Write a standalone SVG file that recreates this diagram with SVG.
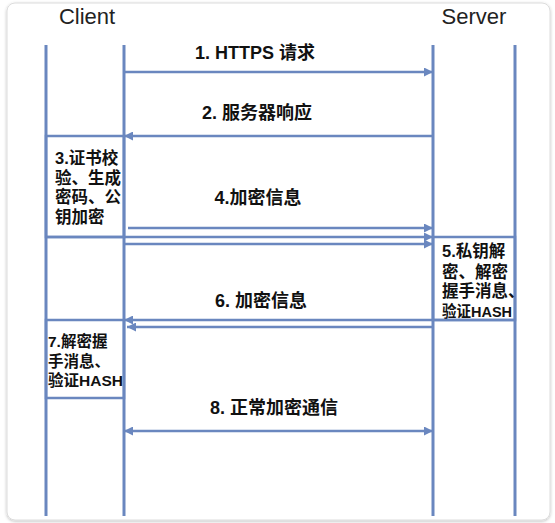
<svg xmlns="http://www.w3.org/2000/svg" width="555" height="523" viewBox="0 0 555 523">
<style>
.ll{stroke:#6A87BF;stroke-width:3;fill:none}
.ar{stroke:#6A87BF;stroke-width:2.5;fill:none}
.bx{stroke:#6A87BF;stroke-width:2.5;fill:none}
.lbl{font-family:"Liberation Sans","Noto Sans CJK SC",sans-serif;font-weight:bold;font-size:18px;fill:#111;text-anchor:middle}
.bt{font-family:"Liberation Sans","Noto Sans CJK SC",sans-serif;font-weight:bold;font-size:16.5px;fill:#111}
.bt7{font-family:"Liberation Sans","Noto Sans CJK SC",sans-serif;font-weight:bold;font-size:15.5px;fill:#111}
.hd{font-family:"Liberation Sans","Noto Sans",sans-serif;font-size:22px;fill:#222;text-anchor:middle}
</style>
<defs>
<filter id="sh" x="-5%" y="-5%" width="110%" height="110%">
<feDropShadow dx="0" dy="1" stdDeviation="1.5" flood-color="#000" flood-opacity="0.25"/>
</filter>
<marker id="ah" viewBox="0 0 10 10" refX="10" refY="5" markerWidth="10" markerHeight="9" markerUnits="userSpaceOnUse" orient="auto-start-reverse">
<path d="M0,0 L10,5 L0,10 Z" fill="#6A87BF"/>
</marker>
</defs>
<rect x="7" y="3" width="543" height="517" rx="8" fill="#fff" stroke="#dcdcdc" stroke-width="1" filter="url(#sh)"/>
<g id="headers">
<text class="hd" x="87" y="24">Client</text>
<text class="hd" x="474" y="24">Server</text>
</g>
<g id="lifelines">
<line class="ll" x1="46" y1="45" x2="46" y2="516"/>
<line class="ll" x1="124" y1="45" x2="124" y2="516"/>
<line class="ll" x1="433" y1="45" x2="433" y2="516"/>
<line class="ll" x1="515" y1="45" x2="515" y2="516"/>
</g>
<g id="box3">
<rect class="bx" x="46" y="136" width="78" height="101"/>
<text class="bt" x="55" y="164">3.证书校</text>
<text class="bt" x="55" y="184">验、生成</text>
<text class="bt" x="55" y="203">密码、公</text>
<text class="bt" x="55" y="223">钥加密</text>
</g>
<g id="box5">
<rect class="bx" x="433" y="237" width="82" height="83"/>
<text class="bt" x="442" y="257">5.私钥解</text>
<text class="bt" x="442" y="278">密、解密</text>
<text class="bt" x="442" y="297">握手消息、</text>
<text class="bt7" x="442" y="317" textLength="70" lengthAdjust="spacingAndGlyphs">验证HASH</text>
</g>
<g id="box7">
<rect class="bx" x="46" y="320" width="78" height="78"/>
<text class="bt7" x="48" y="347">7.解密握</text>
<text class="bt7" x="48" y="367">手消息、</text>
<text class="bt7" x="48" y="386">验证HASH</text>
</g>
<g id="connectors">
<line class="ar" x1="124" y1="72" x2="433" y2="72" marker-end="url(#ah)"/>
<line class="ar" x1="433" y1="136" x2="124" y2="136" marker-end="url(#ah)"/>
<line class="ar" x1="128" y1="228" x2="433" y2="228" marker-end="url(#ah)"/>
<line class="ar" x1="46" y1="237" x2="433" y2="237" marker-end="url(#ah)"/>
<line class="ar" x1="124" y1="244" x2="433" y2="244" marker-end="url(#ah)"/>
<line class="ar" x1="515" y1="320" x2="124" y2="320" marker-end="url(#ah)"/>
<line class="ar" x1="433" y1="327" x2="127" y2="327" marker-end="url(#ah)"/>
<line class="ar" x1="124" y1="431" x2="433" y2="431" marker-start="url(#ah)" marker-end="url(#ah)"/>
</g>
<g id="labels">
<text class="lbl" x="255" y="59">1. HTTPS 请求</text>
<text class="lbl" x="257" y="119">2. 服务器响应</text>
<text class="lbl" x="258" y="204">4.加密信息</text>
<text class="lbl" x="261" y="307">6. 加密信息</text>
<text class="lbl" x="274" y="414">8. 正常加密通信</text>
</g>
</svg>
